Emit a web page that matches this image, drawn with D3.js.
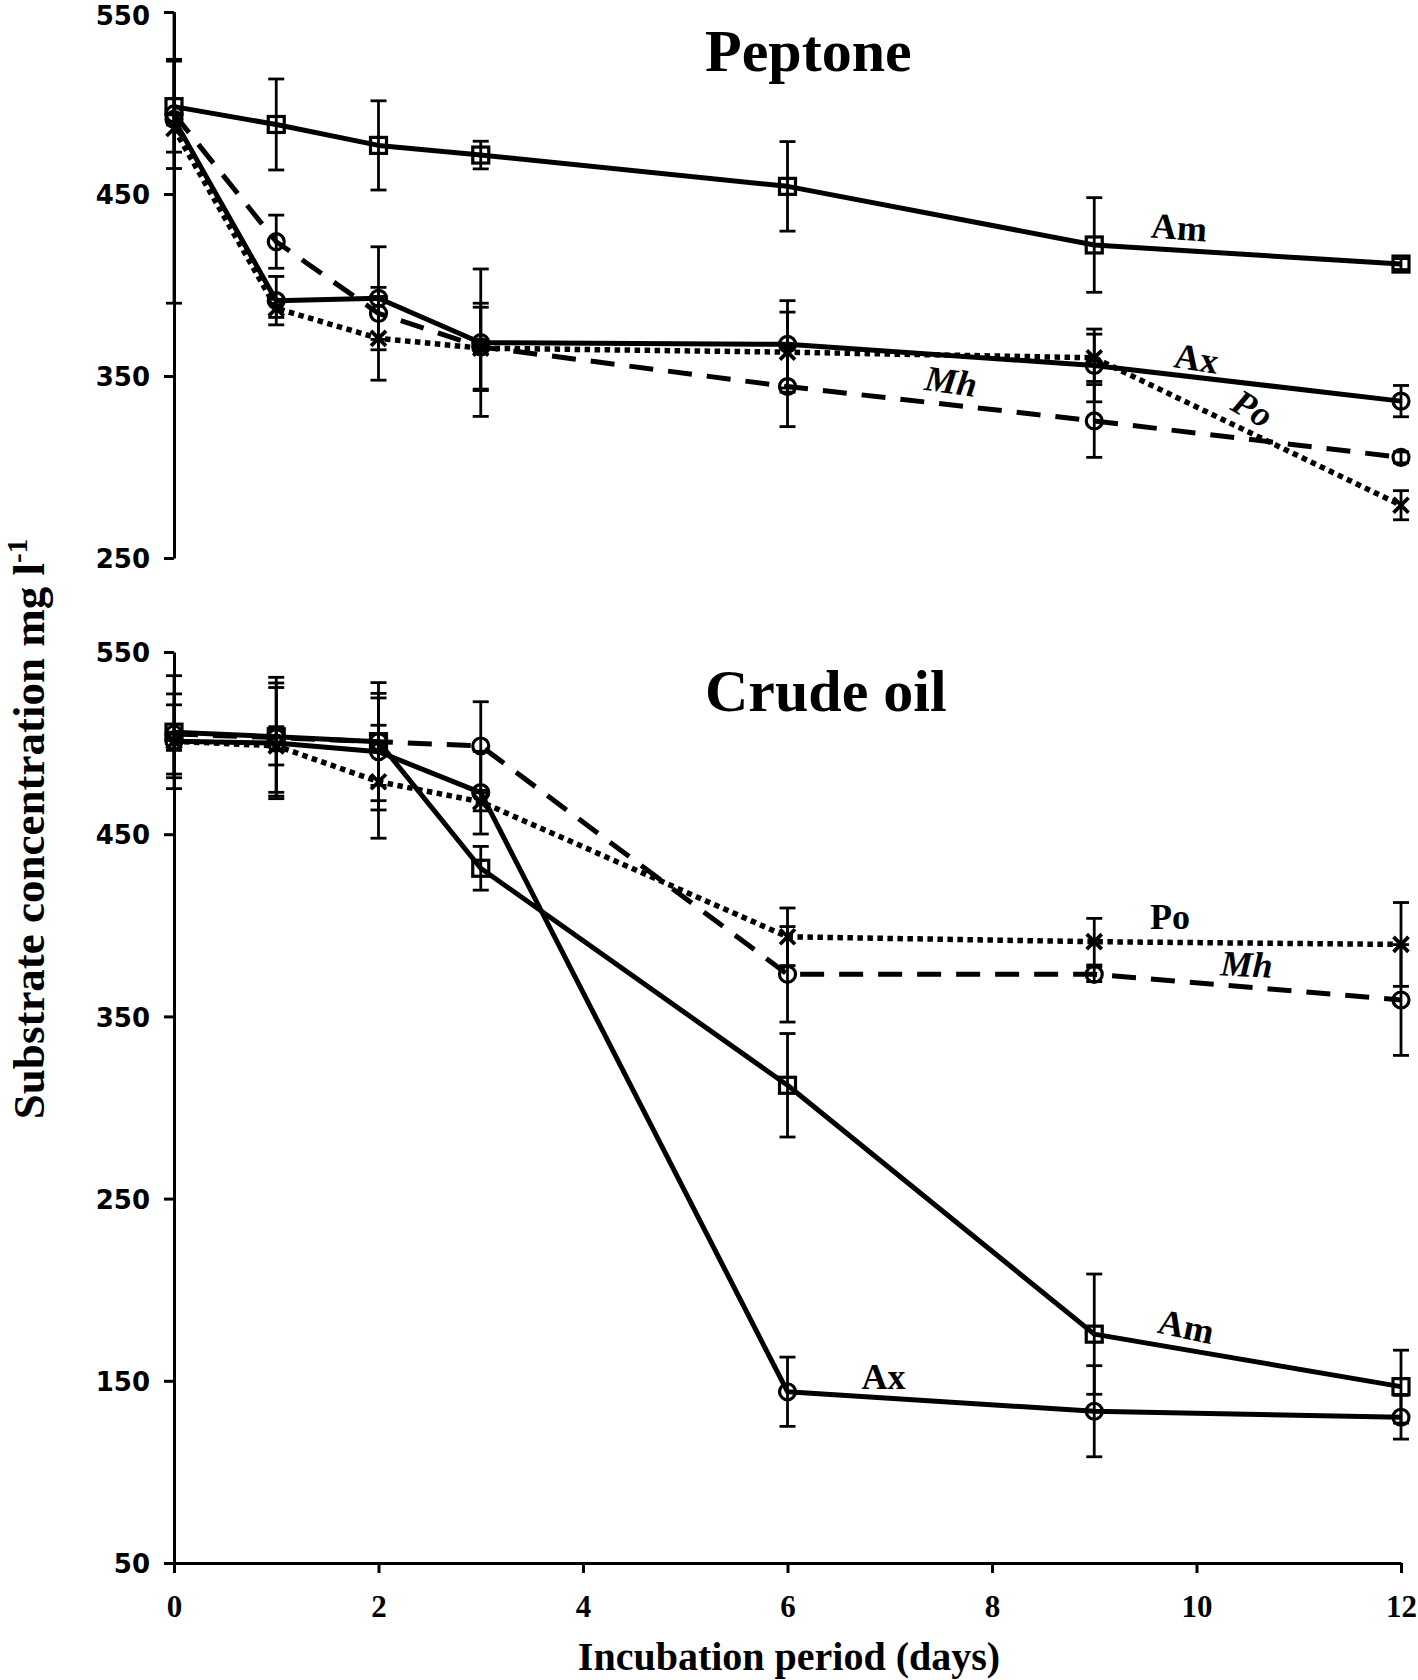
<!DOCTYPE html>
<html><head><meta charset="utf-8">
<script src="https://cdn.jsdelivr.net/npm/d3@7"></script>
<style>
html,body{margin:0;padding:0;background:#fff;}
svg{display:block;}
</style></head><body>
<svg id="chart" width="1418" height="1680"></svg>
<script>
// ---------------- data ----------------
const days = [0, 1, 2, 3, 6, 9, 12];
const xTickValues = [0, 2, 4, 6, 8, 10, 12];
const topYTicks = [250, 350, 450, 550];
const botYTicks = [50, 150, 250, 350, 450, 550];
const seriesNames = ["Am", "Ax", "Mh", "Po"];

// Peptone panel
const peptoneAm    = [498, 488.2, 476.7, 471.4, 454.2, 422.0, 411.5];
const peptoneAmErr = [25, 25, 24.5, 7.6, 24.6, 26, 3];
const peptoneAx    = [491, 391.4, 392.7, 368.3, 367.4, 355.8, 336.2];
const peptoneAxErr = [3, 13.3, 28.3, 40.5, 24, 20, 8.6];
const peptoneMh    = [494, 423.8, 384.4, 366.0, 344.2, 325.3, 305.3];
const peptoneMhErr = [30, 14.6, 14.3, 24, 22, 20, 3];
const peptonePo    = [486, 387.2, 370.7, 365.3, 363.1, 360.0, 279.0];
const peptonePoErr = [96, 5, 23, 22.5, 22, 13, 8];

// Crude oil panel
const crudeAm    = [506, 503.5, 500.8, 431.3, 312.2, 175.6, 146.8];
const crudeAmErr = [31, 32.6, 32.4, 12, 28.4, 33, 20];
const crudeAx    = [501, 500.0, 495.3, 472.8, 144.0, 133.3, 130.0];
const crudeAxErr = [20, 30.5, 32, 22.7, 19, 25, 12];
const crudeMh    = [505, 503.0, 500.8, 498.4, 373.1, 373.1, 359.0];
const crudeMhErr = [22, 30, 24, 24.3, 26.2, 4, 30.4];
const crudePo    = [501, 498.5, 478.8, 467.8, 393.7, 391.0, 389.5];
const crudePoErr = [5, 10.5, 31, 5, 15.8, 12.8, 23];

// series label annotations (day, value, rotation, italic)
const peptoneLabelDays   = [9.83, 10.0, 7.6, 10.55];
const peptoneLabelValues = [431.9, 359.9, 347.3, 332.4];
const peptoneLabelRot    = [4, 9, 8, 30];
const peptoneLabelItalic = [false, false, true, true];
const crudeLabelDays     = [9.9, 6.94, 10.49, 9.74];
const crudeLabelValues   = [180.1, 152.6, 378.8, 405.1];
const crudeLabelRot      = [12, 0, 3, 0];
const crudeLabelItalic   = [false, false, true, false];

// ---------------- styles ----------------
const lineDash = {Am: null, Ax: null, Mh: "24,15", Po: "5.5,4.5"};
const lineWidth = {Am: 5, Ax: 5, Mh: 5, Po: 5.5};
const markerType = {Am: "square", Ax: "circle", Mh: "circle", Po: "cross"};

const svg = d3.select("#chart");
const serif = "'Liberation Serif','Times New Roman',serif";
const sans = "'DejaVu Sans',Verdana,sans-serif";

const x = d3.scaleLinear().domain([0, 12]).range([174, 1401]);
const yTop = d3.scaleLinear().domain([250, 550]).range([558, 12]);
const yBot = d3.scaleLinear().domain([50, 550]).range([1563, 652]);

function drawPanel(id, y, yTicks, series, labels, title, titleY) {
  const g = svg.append("g");
  const [d0, d1] = y.domain();
  svg.append("clipPath").attr("id", "clip" + id)
    .append("rect").attr("x", 100).attr("width", 1318)
    .attr("y", y(d1)).attr("height", y(d0) - y(d1));

  // y axis
  const ya = g.append("g").attr("transform", `translate(${x(0)},0)`)
    .call(d3.axisLeft(y).tickValues(yTicks).tickSize(10).tickSizeOuter(0).tickPadding(14).tickFormat(d3.format("d")));
  ya.select(".domain").attr("stroke", "#000").attr("stroke-width", 3);
  ya.selectAll(".tick line").attr("stroke", "#000").attr("stroke-width", 3);
  ya.selectAll(".tick text").attr("font-family", sans).attr("font-weight", "bold")
    .attr("font-size", 26).attr("fill", "#000").attr("dy", "0.37em");
  // keep the topmost label of the page inside the picture
  if (y(d1) < 20) {
    ya.selectAll(".tick text").filter(d => d === d1).attr("dy", "0.48em");
  }

  // title
  g.append("text").attr("x", 705).attr("y", titleY)
    .attr("font-family", serif).attr("font-weight", "bold").attr("font-size", 60)
    .text(title);

  const plot = g.append("g").attr("clip-path", `url(#clip${id})`);
  series.forEach(s => {
    const pts = days.map((d, i) => ({d, v: s.values[i], e: s.err[i]}));
    const sg = plot.append("g");
    // error bars
    pts.forEach(p => {
      const lo = p.v - p.e, hi = p.v + p.e;
      sg.append("line").attr("x1", x(p.d)).attr("x2", x(p.d))
        .attr("y1", y(lo)).attr("y2", y(hi))
        .attr("stroke", "#000").attr("stroke-width", 2.8);
      [lo, hi].forEach(v => {
        if (v >= d0 && v <= d1) {
          sg.append("line").attr("x1", x(p.d) - 8).attr("x2", x(p.d) + 8)
            .attr("y1", y(v)).attr("y2", y(v))
            .attr("stroke", "#000").attr("stroke-width", 2.8);
        }
      });
    });
    // line
    sg.append("path").datum(pts)
      .attr("d", d3.line().x(p => x(p.d)).y(p => y(p.v)))
      .attr("fill", "none").attr("stroke", "#000").attr("stroke-width", lineWidth[s.name])
      .attr("stroke-linejoin", "round")
      .attr("stroke-dasharray", lineDash[s.name]);
    // markers
    pts.forEach(p => {
      const cx = x(p.d), cy = y(p.v);
      const t = markerType[s.name];
      if (t === "square") {
        sg.append("rect").attr("x", cx - 8).attr("y", cy - 8).attr("width", 16).attr("height", 16)
          .attr("fill", "none").attr("stroke", "#000").attr("stroke-width", 3.2);
      } else if (t === "circle") {
        sg.append("circle").attr("cx", cx).attr("cy", cy).attr("r", 8)
          .attr("fill", "none").attr("stroke", "#000").attr("stroke-width", 3.2);
      } else {
        sg.append("path").attr("d", `M${cx-7.5},${cy-7.5}L${cx+7.5},${cy+7.5}M${cx-7.5},${cy+7.5}L${cx+7.5},${cy-7.5}`)
          .attr("stroke", "#000").attr("stroke-width", 3.8);
      }
    });
  });

  // series labels
  labels.names.forEach((n, i) => {
    const lx = x(labels.days[i]), ly = y(labels.values[i]);
    g.append("text").attr("transform", `translate(${lx},${ly}) rotate(${labels.rot[i]})`)
      .attr("text-anchor", "middle").attr("dy", "0.35em")
      .attr("font-family", serif).attr("font-weight", "bold").attr("font-size", 36)
      .attr("font-style", labels.italic[i] ? "italic" : "normal")
      .text(n);
  });
  return g;
}

drawPanel("top", yTop, topYTicks, [
  {name: "Am", values: peptoneAm, err: peptoneAmErr},
  {name: "Ax", values: peptoneAx, err: peptoneAxErr},
  {name: "Mh", values: peptoneMh, err: peptoneMhErr},
  {name: "Po", values: peptonePo, err: peptonePoErr}
], {names: seriesNames, days: peptoneLabelDays, values: peptoneLabelValues, rot: peptoneLabelRot, italic: peptoneLabelItalic},
 "Peptone", 71);

drawPanel("bot", yBot, botYTicks, [
  {name: "Am", values: crudeAm, err: crudeAmErr},
  {name: "Ax", values: crudeAx, err: crudeAxErr},
  {name: "Mh", values: crudeMh, err: crudeMhErr},
  {name: "Po", values: crudePo, err: crudePoErr}
], {names: seriesNames, days: crudeLabelDays, values: crudeLabelValues, rot: crudeLabelRot, italic: crudeLabelItalic},
 "Crude oil", 711);

// x axis (bottom panel)
const xa = svg.append("g").attr("transform", `translate(0,${yBot(50)})`)
  .call(d3.axisBottom(x).tickValues(xTickValues).tickSize(10).tickSizeOuter(0).tickPadding(22).tickFormat(d3.format("d")));
xa.select(".domain").attr("stroke", "#000").attr("stroke-width", 3);
xa.selectAll(".tick line").attr("stroke", "#000").attr("stroke-width", 3);
xa.selectAll(".tick text").attr("font-family", serif).attr("font-weight", "bold")
  .attr("font-size", 31).attr("fill", "#000");

// axis titles
svg.append("text").attr("x", 789).attr("y", 1670).attr("text-anchor", "middle")
  .attr("font-family", serif).attr("font-weight", "bold").attr("font-size", 40)
  .text("Incubation period (days)");

const yl = svg.append("text").attr("transform", "rotate(-90)")
  .attr("x", -829).attr("y", 44).attr("text-anchor", "middle")
  .attr("font-family", serif).attr("font-weight", "bold").attr("font-size", 45);
yl.append("tspan").text("Substrate concentration mg l");
yl.append("tspan").attr("font-size", 29).attr("dy", -17).text("-1");
</script>
</body></html>
